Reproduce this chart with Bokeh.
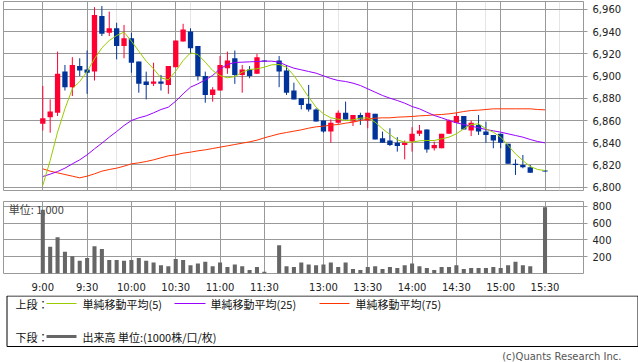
from bokeh.plotting import figure
from bokeh.layouts import column
from bokeh.models import Range1d, FixedTicker, NumeralTickFormatter, Grid, Label, ColumnDataSource
from bokeh.embed import file_html
from bokeh.resources import INLINE

NaN = float("nan")

# ---- time slots (5-minute bars) ----
am = ("9:00 9:05 9:10 9:15 9:20 9:25 9:30 9:35 9:40 9:45 9:50 9:55 "
      "10:00 10:05 10:10 10:15 10:20 10:25 10:30 10:35 10:40 10:45 10:50 10:55 "
      "11:00 11:05 11:10 11:15 11:20 11:25 11:30").split()
pm = ("12:30 12:35 12:40 12:45 12:50 12:55 13:00 13:05 13:10 13:15 13:20 13:25 "
      "13:30 13:35 13:40 13:45 13:50 13:55 14:00 14:05 14:10 14:15 14:20 14:25 "
      "14:30 14:35 14:40 14:45 14:50 14:55 15:00 15:05 15:10 15:15 15:20 15:25 15:30").split()
slots = am + ["lunch"] + pm
tick_labels = ["9:00", "9:30", "10:00", "10:30", "11:00", "11:30",
               "13:00", "13:30", "14:00", "14:30", "15:00", "15:30"]
price_ticks = [6800, 6820, 6840, 6860, 6880, 6900, 6920, 6940, 6960]
volume_ticks = [200, 400, 600, 800]

# ---- OHLC ----
open_ = [6857, 6863, 6867, 6904, 6890, 6909, 6906, 6904, 6954, 6939,
         6943, 6927, 6934, 6913, 6895, 6893, 6895, 6892, 6908, 6931,
         6940, 6927, 6900, 6883, 6887, 6907, 6916, 6901, 6906, 6902,
         6914, NaN, 6914, 6905, 6887, 6880, 6875, 6870, 6860, 6850,
         6858, 6867, 6859, 6865, 6860, 6866, 6844, 6842, 6840, 6838,
         6841, 6848, 6852, 6835, 6835, 6848, 6858, 6864, 6851, 6856,
         6850, 6847, 6848, 6839, 6821, 6820, 6818, NaN, 6815]
high = [6891, 6879, 6922, 6910, 6917, 6916, 6923, 6962, 6963, 6958,
        6948, 6946, 6939, 6913, 6904, 6912, 6901, 6909, 6932, 6947,
        6943, 6927, 6904, 6890, 6918, 6922, 6923, 6910, 6909, 6920,
        6914, NaN, 6918, 6910, 6894, 6880, 6892, 6871, 6860, 6861,
        6869, 6877, 6865, 6867, 6867, 6866, 6850, 6853, 6845, 6842,
        6854, 6856, 6852, 6841, 6848, 6861, 6867, 6864, 6860, 6865,
        6859, 6847, 6848, 6839, 6825, 6829, 6820, NaN, 6815]
low = [6851, 6849, 6864, 6887, 6882, 6900, 6884, 6896, 6936, 6936,
       6915, 6916, 6903, 6885, 6879, 6891, 6887, 6884, 6908, 6931,
       6920, 6896, 6876, 6877, 6887, 6902, 6893, 6885, 6898, 6902,
       6913, NaN, 6890, 6883, 6879, 6870, 6868, 6859, 6849, 6840,
       6857, 6861, 6855, 6856, 6853, 6843, 6840, 6837, 6832, 6825,
       6832, 6846, 6831, 6833, 6835, 6848, 6858, 6852, 6846, 6847,
       6840, 6835, 6835, 6821, 6811, 6817, 6813, NaN, 6814]
close = [6862, 6868, 6902, 6890, 6910, 6905, 6903, 6955, 6938, 6943,
         6927, 6934, 6912, 6893, 6892, 6895, 6893, 6909, 6932, 6942,
         6925, 6900, 6883, 6888, 6910, 6914, 6901, 6906, 6900, 6917,
         6913, NaN, 6904, 6885, 6879, 6874, 6870, 6859, 6850, 6858,
         6867, 6861, 6865, 6861, 6867, 6843, 6840, 6838, 6837, 6840,
         6848, 6851, 6834, 6838, 6848, 6860, 6864, 6852, 6858, 6850,
         6847, 6842, 6840, 6821, 6820, 6818, 6813, NaN, 6814]

# ---- moving averages ----
ma5 = [6801.5, 6824, 6849.5, 6870.5, 6888.5, 6895.1, 6904.1, 6915.5, 6925.4, 6932,
       6936.5, 6939.5, 6931.4, 6922.4, 6913.4, 6906.5, 6898.4, 6896.6, 6904.4, 6914,
       6920.9, 6919.4, 6912.5, 6905, 6900.5, 6898.4, 6899.6, 6903.5, 6905.9, 6906.5,
       6908, 6910.1, 6910.4, 6908, 6900.5, 6890.9, 6881, 6872, 6866, 6862.4,
       6861.2, 6860, 6860.6, 6862.1, 6862.4, 6858.5, 6852.5, 6847.4, 6842.6, 6840.5,
       6840.5, 6841.7, 6842, 6842, 6843.5, 6845, 6848, 6852.5, 6856.4, 6857,
       6852.5, 6849.5, 6845, 6837.5, 6830, 6824, 6818.6, 6815.9, 6815]
ma25 = [6809.6, 6811.7, 6814.1, 6817.1, 6821, 6824.6, 6829.1, 6834.5, 6839.6, 6845,
        6850.1, 6855.5, 6860, 6862.4, 6864.2, 6866.9, 6869.9, 6872, 6877.4, 6884,
        6890, 6893, 6896.6, 6900.5, 6906.5, 6910.4, 6912.2, 6912.5, 6912.8, 6913.1,
        6913.4, 6913.4, 6912.5, 6909.5, 6907.1, 6905.6, 6904.1, 6902.6, 6900.2, 6897.8,
        6896, 6895.1, 6893.6, 6891.5, 6888.5, 6885.5, 6882.5, 6880.1, 6878, 6875.6,
        6872.6, 6870.5, 6867.5, 6864.5, 6862.4, 6860, 6857.9, 6856.4, 6854.9, 6853.4,
        6851.9, 6850.7, 6849.5, 6848, 6846.5, 6845, 6842.9, 6841.1, 6839.9]
ma75 = [6816.5, 6814.4, 6812.9, 6811.4, 6809.9, 6808.4, 6809.9, 6812, 6814.4, 6815.9,
        6817.1, 6818.9, 6821, 6821.9, 6823.1, 6824.6, 6826.4, 6828.2, 6829.1, 6830.6,
        6831.5, 6832.7, 6833.6, 6834.8, 6836, 6837.2, 6838.4, 6839.6, 6840.8, 6842.3,
        6844.4, 6846.2, 6848, 6849.2, 6850.4, 6851.6, 6853.1, 6854.3, 6854.9, 6855.8,
        6856.4, 6857.6, 6858.5, 6860, 6861.2, 6862.1, 6862.4, 6862.4, 6863, 6863.3,
        6863.6, 6864.2, 6864.5, 6865.1, 6865.4, 6866, 6866.9, 6868.1, 6869, 6869.3,
        6869.9, 6870.5, 6870.5, 6870.5, 6870.5, 6870.5, 6870.5, 6869.9, 6869.6]

# ---- volume (unit: 1,000) ----
volume = [760, 317, 432, 259, 205, 151, 184, 324, 292, 162,
          162, 151, 162, 184, 151, 130, 97, 86, 173, 162,
          97, 119, 140, 86, 130, 76, 108, 86, 43, 76,
          22, 0, 335, 86, 76, 130, 108, 97, 108, 130,
          76, 130, 54, 43, 76, 86, 54, 76, 65, 97,
          119, 86, 65, 43, 76, 76, 97, 54, 65, 65,
          65, 76, 65, 97, 140, 97, 86, 0, 788]

UP, DOWN = "#ff0033", "#003399"
GRID = "#999999"
FONT = "DejaVu Sans"
JP = "Noto Sans CJK JP"

xs = list(range(len(slots)))
xt = [slots.index(t) for t in tick_labels]

top_, bot_, col_ = [], [], []
for o, c in zip(open_, close):
    if o != o:
        top_.append(NaN); bot_.append(NaN); col_.append(UP)
    else:
        top_.append(max(o, c)); bot_.append(min(o, c))
        col_.append(UP if c >= o else DOWN)
src = ColumnDataSource(dict(x=xs, h=high, l=low, top=top_, bot=bot_, color=col_))

x_range = Range1d(-5.32, 73.21)


def style_frame(p):
    p.outline_line_color = GRID
    p.outline_line_width = 1
    p.background_fill_color = "white"
    p.border_fill_color = "white"


# ---- price chart ----
p1 = figure(width=638, height=192, x_range=x_range, y_range=Range1d(6797.0, 6967.1),
            output_backend="svg", toolbar_location=None, y_axis_location="right",
            x_axis_location=None, min_border_left=3, min_border_right=55,
            min_border_top=1, min_border_bottom=2)
style_frame(p1)
p1.add_layout(Grid(dimension=0, ticker=FixedTicker(ticks=xt), grid_line_color=GRID))
ya = p1.yaxis[0]
ya.ticker = FixedTicker(ticks=price_ticks)
ya.formatter = NumeralTickFormatter(format="0,0")
ya.axis_line_color = None
ya.major_tick_line_color = GRID
ya.major_tick_out = 4
ya.major_tick_in = 0
ya.minor_tick_line_color = None
ya.major_label_text_font = FONT
ya.major_label_text_font_size = "10px"
ya.major_label_text_color = "#222222"
ya.major_label_standoff = 5
p1.ygrid.ticker = FixedTicker(ticks=price_ticks)
p1.ygrid.grid_line_color = GRID

p1.segment(x0="x", y0="l", x1="x", y1="h", line_color="color", line_width=1, source=src)
p1.vbar(x="x", width=0.72, top="top", bottom="bot", fill_color="color", line_color=None, source=src)
p1.line(xs, ma75, line_color="#ff3300", line_width=1)
p1.line(xs, ma25, line_color="#9900ff", line_width=1)
p1.line(xs, ma5, line_color="#99cc00", line_width=1)

# ---- volume chart ----
p2 = figure(width=638, height=103, x_range=x_range, y_range=Range1d(0, 857),
            output_backend="svg", toolbar_location=None, y_axis_location="right",
            min_border_left=3, min_border_right=55, min_border_top=9, min_border_bottom=15)
style_frame(p2)
xa = p2.xaxis[0]
xa.ticker = FixedTicker(ticks=xt)
xa.major_label_overrides = {i: t for i, t in zip(xt, tick_labels)}
xa.axis_line_color = None
xa.major_tick_line_color = None
xa.minor_tick_line_color = None
xa.major_label_text_font = FONT
xa.major_label_text_font_size = "10px"
xa.major_label_text_color = "#222222"
xa.major_label_standoff = 2
p2.xgrid.grid_line_color = GRID
ya2 = p2.yaxis[0]
ya2.ticker = FixedTicker(ticks=volume_ticks)
ya2.axis_line_color = None
ya2.major_tick_line_color = GRID
ya2.major_tick_out = 4
ya2.major_tick_in = 0
ya2.minor_tick_line_color = None
ya2.major_label_text_font = FONT
ya2.major_label_text_font_size = "10px"
ya2.major_label_text_color = "#222222"
ya2.major_label_standoff = 5
p2.ygrid.ticker = FixedTicker(ticks=volume_ticks)
p2.ygrid.grid_line_color = GRID
p2.add_layout(Label(x=-4.6, y=762, text="単位: 1,000", text_font=JP, text_font_size="11px",
                    text_baseline="middle", text_align="left", level="underlay"))
p2.vbar(x=xs, width=0.55, top=volume, bottom=0, fill_color="#666666", line_color=None)

# ---- legend / credit ----
p3 = figure(frame_width=638, frame_height=67, x_range=Range1d(0, 638), y_range=Range1d(67, 0),
            output_backend="svg", toolbar_location=None, x_axis_location=None,
            y_axis_location=None, min_border=0, min_border_left=0, min_border_right=0,
            min_border_top=0, min_border_bottom=0)
p3.outline_line_color = None
p3.xgrid.visible = False
p3.ygrid.visible = False
p3.quad(left=3.5, right=634.5, top=0.5, bottom=51.0, fill_color=None, line_color="black", line_width=1)


def txt(x, y, s, align="left", size="11px", font=JP, color="#111111"):
    p3.add_layout(Label(x=x, y=y, text=s, text_font=font, text_font_size=size,
                        text_baseline="middle", text_align=align, text_color=color))


txt(12, 8, "上段：")
p3.segment(x0=[43], y0=[8], x1=[73], y1=[8], line_color="#99cc00", line_width=1)
txt(79, 8, "単純移動平均(5)")
p3.segment(x0=[171], y0=[8], x1=[202], y1=[8], line_color="#9900ff", line_width=1)
txt(207, 8, "単純移動平均(25)")
p3.segment(x0=[316], y0=[8], x1=[346], y1=[8], line_color="#ff3300", line_width=1)
txt(352, 8, "単純移動平均(75)")
txt(12, 41, "下段：")
p3.segment(x0=[43], y0=[41], x1=[73], y1=[41], line_color="#666666", line_width=3)
txt(79, 41, "出来高 単位:(1000株/口/枚)")
txt(618, 61, "(c)Quants Research Inc.", align="right", size="10px", font=FONT, color="#555555")

layout = column(p1, p2, p3, spacing=0,
                styles={"position": "absolute", "left": "0px", "top": "0px"})

open("out.html", "w").write(file_html(layout, INLINE))
